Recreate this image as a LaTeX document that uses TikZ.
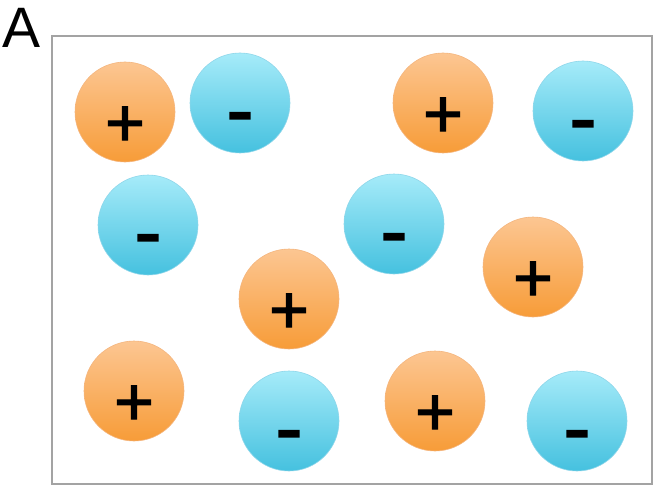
\documentclass[tikz,border=0pt]{standalone}
\usepackage{fontspec}
\setmainfont{Liberation Sans}
\newfontfamily\signfont[FakeBold=2]{Liberation Sans}
\usetikzlibrary{positioning}

\definecolor{posTop}{HTML}{FCC692}
\definecolor{posBot}{HTML}{F79C38}
\definecolor{posEdge}{HTML}{F4B57E}
\definecolor{negTop}{HTML}{A6EBF9}
\definecolor{negBot}{HTML}{45C1DF}
\definecolor{negEdge}{HTML}{8ED6EA}
\definecolor{frameGray}{HTML}{A3A3A3}

\begin{document}
\begin{tikzpicture}[
    x=1pt, y=-1pt,
    ion/.style={
        circle, minimum size=100pt, inner sep=0pt,
        line width=0.6pt
    },
    cation/.style={ion, top color=posTop, bottom color=posBot, draw=posEdge},
    anion/.style={ion, top color=negTop, bottom color=negBot, draw=negEdge},
    plussign/.style={font=\signfont\fontsize{68}{68}\selectfont, inner sep=0pt, anchor=base},
    minussign/.style={font=\signfont\fontsize{80}{80}\selectfont, inner sep=0pt, anchor=base},
]
\useasboundingbox (0,0) rectangle (654,487);

% Panel label and frame
\node[font=\fontsize{57}{57}\selectfont, inner sep=0pt] (panelA) at (22,27.5) {A};
\node[draw=frameGray, line width=2pt, inner sep=0pt, anchor=north west,
      minimum width=600pt, minimum height=448pt] (frame) at (51,35) {};

% Positive ions
\node[cation] (p1) at (125,112) {};
\node[cation] (p2) at (443,103) {};
\node[cation] (p3) at (533,267) {};
\node[cation] (p4) at (289,299) {};
\node[cation] (p5) at (134,391) {};
\node[cation] (p6) at (435,401) {};

% Negative ions
\node[anion] (n1) at (240,103) {};
\node[anion] (n2) at (583,111) {};
\node[anion] (n3) at (148,225) {};
\node[anion] (n4) at (394,224) {};
\node[anion] (n5) at (289,421) {};
\node[anion] (n6) at (577,421) {};

% Charge signs, set a little below each centre
\node[plussign] (s1) at ([yshift=-34pt]p1.center) {+};
\node[plussign] (s2) at ([yshift=-34pt]p2.center) {+};
\node[plussign] (s3) at ([yshift=-34pt]p3.center) {+};
\node[plussign] (s4) at ([yshift=-34pt]p4.center) {+};
\node[plussign] (s5) at ([yshift=-34pt]p5.center) {+};
\node[plussign] (s6) at ([yshift=-34pt]p6.center) {+};
\node[minussign] (m1) at ([yshift=-34pt]n1.center) {-};
\node[minussign] (m2) at ([yshift=-34pt]n2.center) {-};
\node[minussign] (m3) at ([yshift=-34pt]n3.center) {-};
\node[minussign] (m4) at ([yshift=-34pt]n4.center) {-};
\node[minussign] (m5) at ([yshift=-34pt]n5.center) {-};
\node[minussign] (m6) at ([yshift=-34pt]n6.center) {-};

\end{tikzpicture}
\end{document}
